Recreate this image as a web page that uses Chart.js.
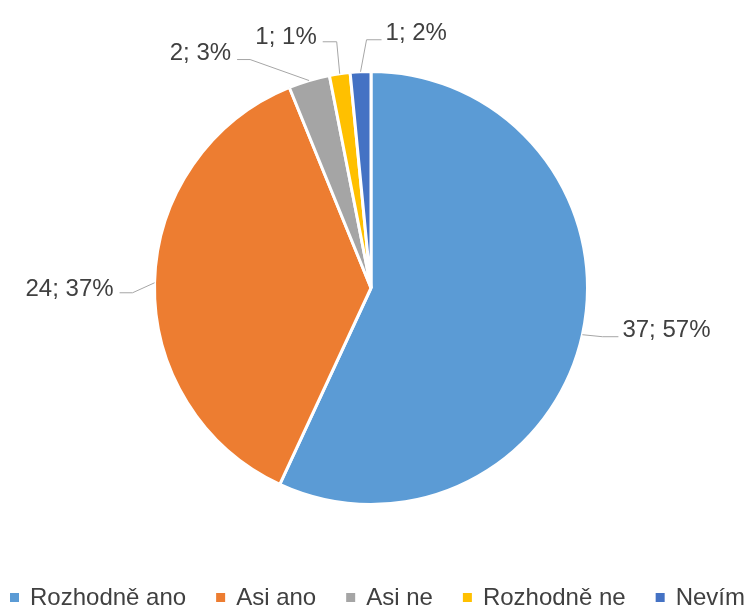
<!DOCTYPE html>
<html>
<head>
<meta charset="utf-8">
<script src="https://cdn.jsdelivr.net/npm/chart.js@4.4.1/dist/chart.umd.min.js"></script>
<style>
  html, body { margin: 0; padding: 0; background: #fff; }
  #wrap { width: 749px; height: 610px; }
</style>
</head>
<body>
<div id="wrap"><canvas id="pie" width="749" height="610"></canvas></div>
<script>
const categories = ['Rozhodně ano', 'Asi ano', 'Asi ne', 'Rozhodně ne', 'Nevím'];
const counts = [37, 24, 2, 1, 1];
const percentLabels = ['57%', '37%', '3%', '1%', '2%'];

const colors = ['#5B9BD5', '#ED7D31', '#A5A5A5', '#FFC000', '#4472C4'];
const FONT = '24px "Liberation Sans", Arial, sans-serif';
const TEXT_COLOR = '#404040';

// leader line layout per slice: elbow offset from the slice edge, tail length, text y shift
const elbowOffsets = [[20, 2], [-22, 10], [-59, -21], [-3, -32], [6, -32]];
const tails = [16, -13, -13, -14, 15];
const textShift = [-6, -3, -6, -4, -6];

const labelPlugin = {
  id: 'pieLabels',
  afterDatasetsDraw(chart) {
    const ctx = chart.ctx;
    const meta = chart.getDatasetMeta(0);
    ctx.save();
    ctx.font = FONT;
    ctx.fillStyle = TEXT_COLOR;
    ctx.textBaseline = 'middle';
    meta.data.forEach((arc, i) => {
      const p = arc.getProps(['x', 'y', 'startAngle', 'endAngle', 'outerRadius'], true);
      const mid = (p.startAngle + p.endAngle) / 2;
      const ex = p.x + Math.cos(mid) * p.outerRadius;
      const ey = p.y + Math.sin(mid) * p.outerRadius;
      const bx = ex + elbowOffsets[i][0];
      const by = ey + elbowOffsets[i][1];
      const tx = bx + tails[i];

      ctx.strokeStyle = '#A6A6A6';
      ctx.lineWidth = 1;
      ctx.beginPath();
      ctx.moveTo(ex, ey);
      ctx.lineTo(bx, by);
      ctx.lineTo(tx, by);
      ctx.stroke();

      const txt = counts[i] + '; ' + percentLabels[i];
      const right = tails[i] > 0;
      ctx.textAlign = right ? 'left' : 'right';
      ctx.fillText(txt, tx + (right ? 4 : -6), by + textShift[i]);
    });
    ctx.restore();
  }
};

const legendPlugin = {
  id: 'bottomLegend',
  afterDraw(chart) {
    const ctx = chart.ctx;
    const y = 598;
    let x = 10;
    ctx.save();
    ctx.font = FONT;
    ctx.textBaseline = 'middle';
    ctx.textAlign = 'left';
    categories.forEach((name, i) => {
      ctx.fillStyle = colors[i];
      ctx.fillRect(x, y - 5, 9, 9);
      x += 20;
      ctx.fillStyle = TEXT_COLOR;
      ctx.fillText(name, x, y);
      x += ctx.measureText(name).width + 30;
    });
    ctx.restore();
  }
};

new Chart(document.getElementById('pie').getContext('2d'), {
  type: 'pie',
  data: {
    labels: categories,
    datasets: [{
      data: counts,
      backgroundColor: colors,
      borderColor: '#ffffff',
      borderWidth: 3
    }]
  },
  options: {
    responsive: false,
    animation: false,
    layout: { padding: { top: 70, bottom: 104, left: 153, right: 160 } },
    plugins: {
      legend: { display: false },
      tooltip: { enabled: false }
    }
  },
  plugins: [labelPlugin, legendPlugin]
});
</script>
</body>
</html>
